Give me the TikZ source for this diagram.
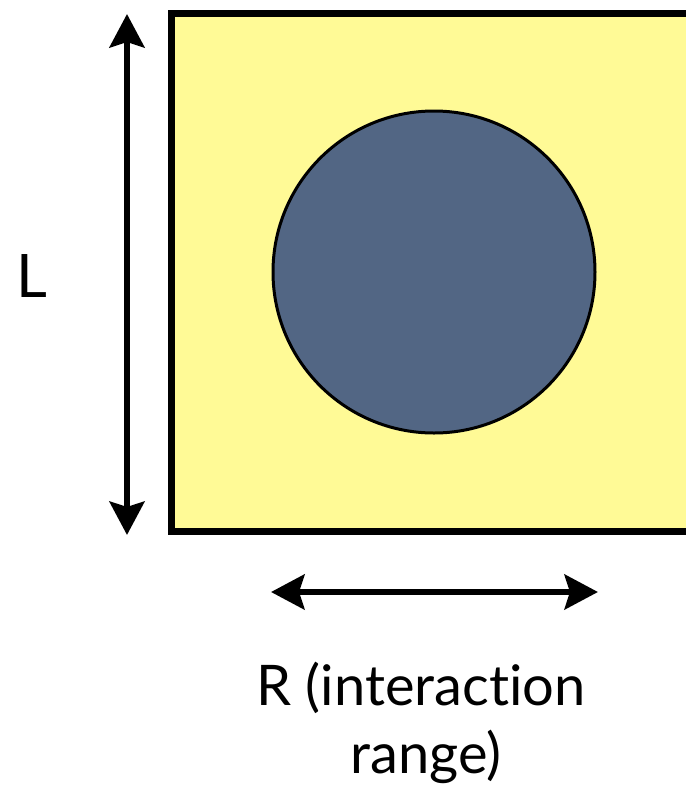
\documentclass[tikz,border=0pt]{standalone}
\usepackage{fontspec}
\setmainfont{Lato}[Ligatures={NoCommon,NoDiscretionary}]
\usepackage{tikz}
\usetikzlibrary{arrows.meta,calc}

\definecolor{boxyellow}{RGB}{255,250,150}
\definecolor{discblue}{RGB}{82,102,132}

\begin{document}
\begin{tikzpicture}[x=0.75pt,y=-0.75pt,
    dimarrow/.style={line width=5pt,{Stealth[length=25pt,width=26pt,inset=4pt]}-{Stealth[length=25pt,width=26pt,inset=4pt]}}]
\useasboundingbox (0,0) rectangle (686,804);
\clip (0,0) rectangle (686,804);

\draw[fill=boxyellow, line width=5.25pt] (171.5,13.5) rectangle (689.5,531.5);
\draw[fill=discblue, line width=2.25pt] (434,272) circle (161);

\coordinate (Ltop) at (127,14);
\coordinate (Lbot) at (127,535);
\coordinate (Rleft) at (271,592);
\coordinate (Rright) at (598,592);
\draw[dimarrow] (Ltop) -- (Lbot);
\draw[dimarrow] (Rleft) -- (Rright);

    \node[anchor=base, font=\fontsize{45}{54}\selectfont] (Llabel) at (32,297) {L};
    \node[anchor=base, font=\fontsize{42}{50}\selectfont] (Rlabel) at (421,705) {R (interac\kern0pt tion};
    \node[anchor=base, font=\fontsize{42}{50}\selectfont] (Rrange) at (426,773) {range)};

\end{tikzpicture}
\end{document}
